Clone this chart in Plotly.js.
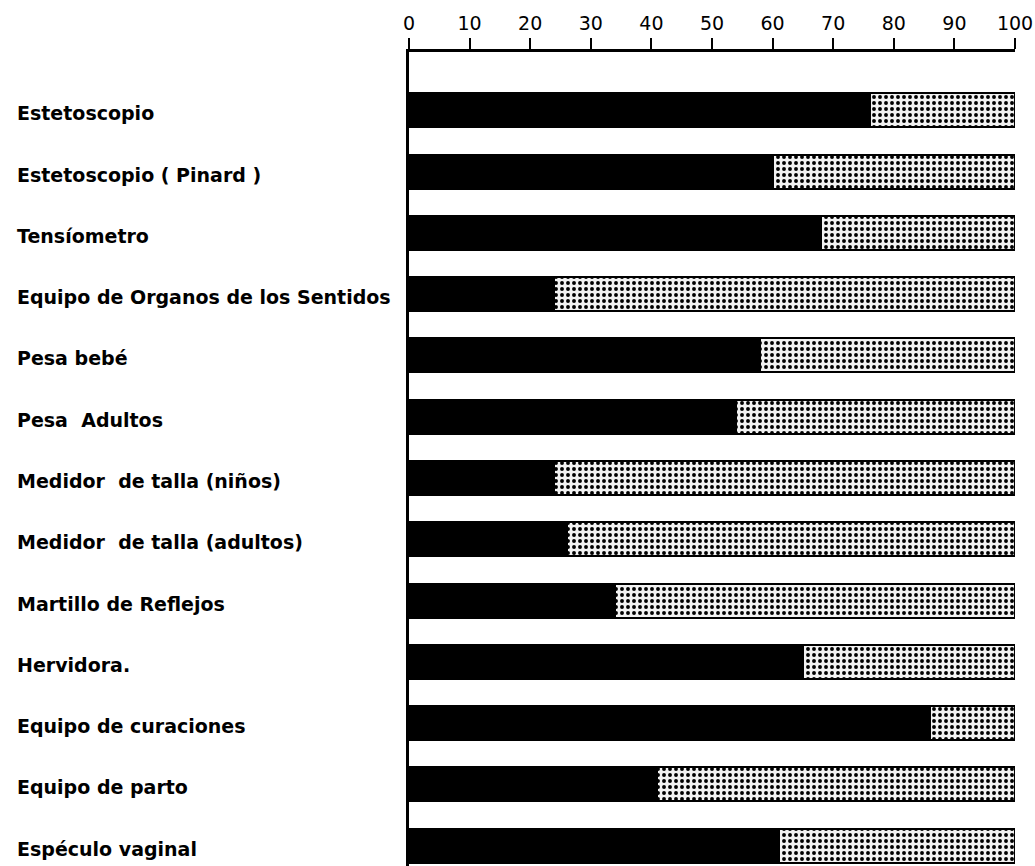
<!DOCTYPE html>
<html>
<head>
<meta charset="utf-8">
<script src="https://cdn.plot.ly/plotly-3.0.1.min.js"></script>
<style>html,body{margin:0;padding:0;background:#fff;}#chart{width:1035px;height:866px;}</style>
</head>
<body>
<div id="chart"></div>
<script>
var categories = [
  "Estetoscopio",
  "Estetoscopio ( Pinard )",
  "Tensíometro",
  "Equipo de Organos de los Sentidos",
  "Pesa bebé",
  "Pesa  Adultos",
  "Medidor  de talla (niños)",
  "Medidor  de talla (adultos)",
  "Martillo de Reflejos",
  "Hervidora.",
  "Equipo de curaciones",
  "Equipo de parto",
  "Espéculo vaginal"
];
var tiene = [76, 60, 68, 24, 58, 54, 24, 26, 34, 65, 86, 41, 61];
var total = 100;
var noTiene = tiene.map(function(v){ return total - v; });
var tickVals = [0,10,20,30,40,50,60,70,80,90,100];

var ids = categories.map(function(c, i){ return String(i); });

var traces = [
  {
    type: 'bar', orientation: 'h', y: ids, x: tiene,
    marker: {color: '#000', line: {color: '#000', width: 2}},
    hoverinfo: 'skip', showlegend: false
  },
  {
    type: 'bar', orientation: 'h', y: ids, x: noTiene,
    marker: {
      color: '#fff',
      line: {color: '#000', width: 2},
      pattern: {shape: '.', fgcolor: '#000', bgcolor: '#f2f2f2', size: 6, solidity: 0.33, fillmode: 'replace'}
    },
    hoverinfo: 'skip', showlegend: false
  }
];

var annotations = categories.map(function(c, i){
  return {
    xref: 'paper', yref: 'y', x: -0.65, y: ids[i], xanchor: 'left', yanchor: 'middle',
    text: c, showarrow: false, yshift: -3,
    font: {family: 'DejaVu Sans', size: 19, color: '#000', weight: 'bold'}
  };
});

var layout = {
  width: 1035, height: 866,
  margin: {l: 409, r: 20, t: 52, b: 0, pad: 0},
  paper_bgcolor: '#fff', plot_bgcolor: '#fff',
  barmode: 'stack', bargap: 0.445,
  xaxis: {
    side: 'top', range: [0, 100], tickvals: tickVals, ticktext: tickVals.map(String),
    ticks: 'outside', ticklen: 11, tickwidth: 2, tickcolor: '#000',
    showline: true, linewidth: 3, linecolor: '#000', showgrid: false, zeroline: false,
    tickfont: {family: 'DejaVu Sans', size: 19, color: '#000'}, fixedrange: true
  },
  yaxis: {
    type: 'category', range: [12.33, -0.95], showticklabels: false, ticks: '',
    showline: true, linewidth: 3, linecolor: '#000', showgrid: false, zeroline: false, fixedrange: true
  },
  annotations: annotations
};

Plotly.newPlot('chart', traces, layout, {staticPlot: true, displayModeBar: false});
</script>
</body>
</html>
